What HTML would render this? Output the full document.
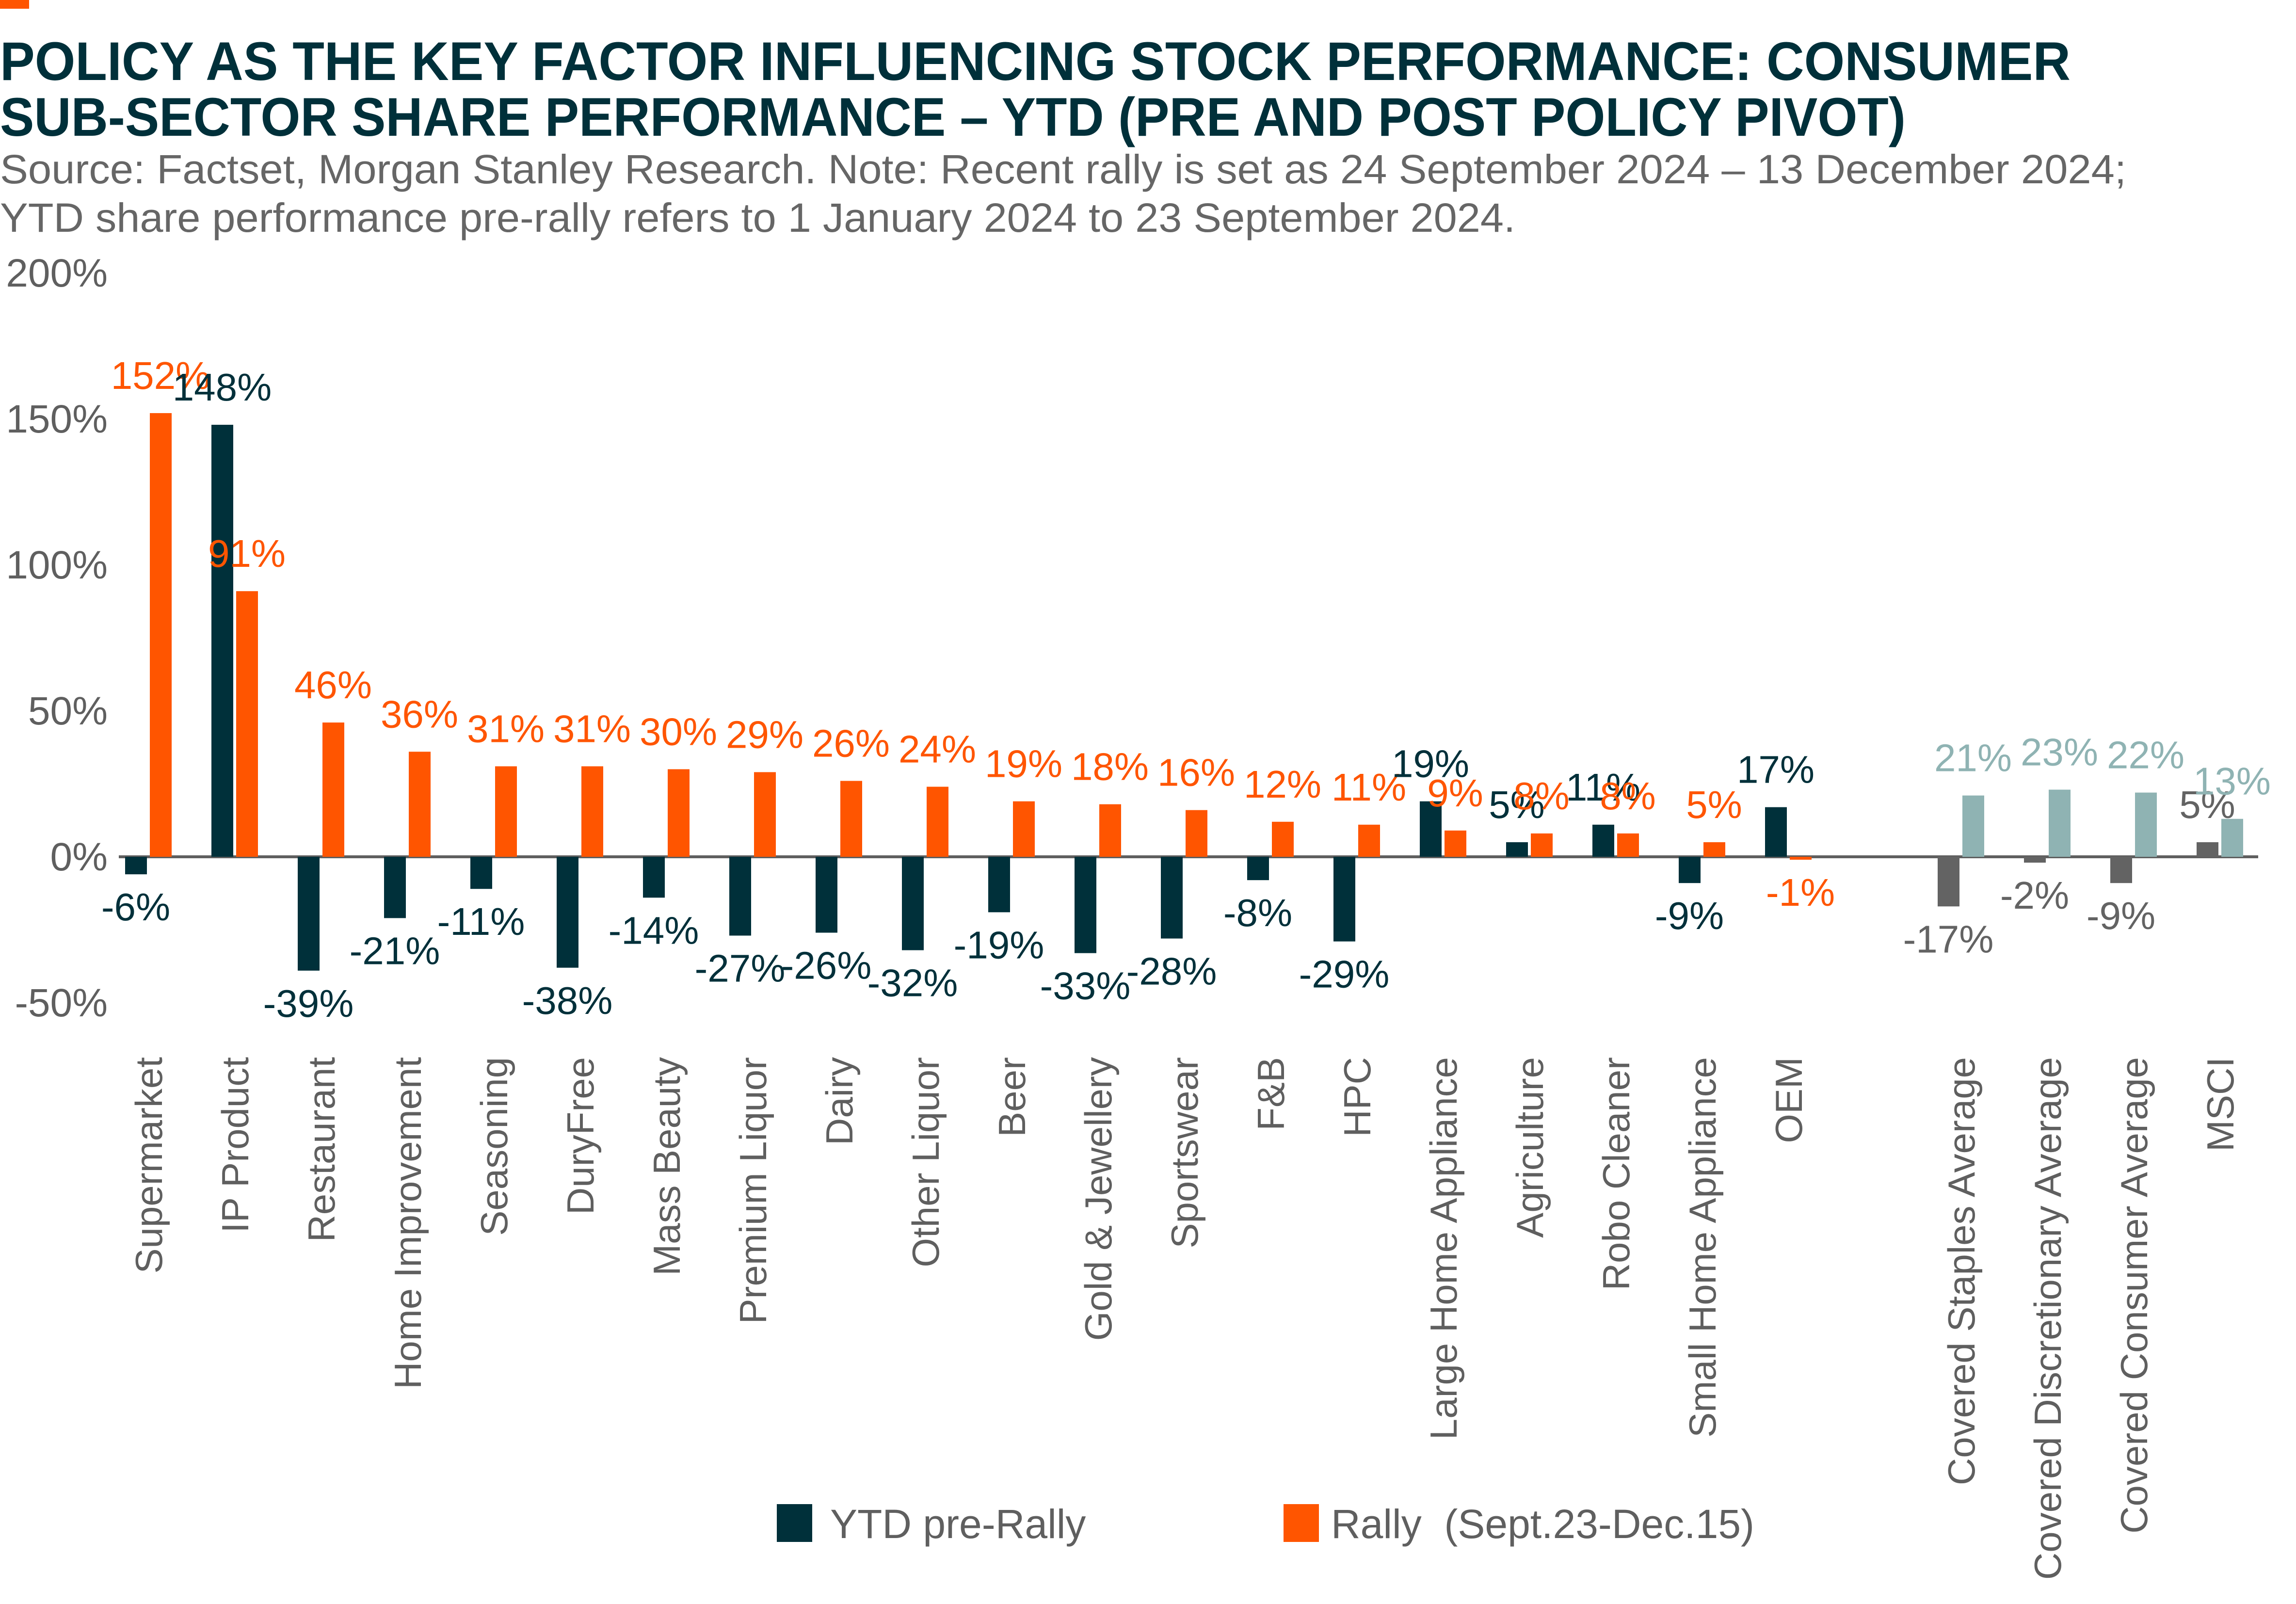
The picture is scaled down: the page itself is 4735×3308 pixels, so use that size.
<!DOCTYPE html>
<html><head><meta charset="utf-8"><style>
html,body{margin:0;padding:0;background:#fff}
svg{display:block;font-family:"Liberation Sans",sans-serif}
</style></head><body>
<svg id="chart" width="4735" height="3308" viewBox="0 0 4735 3308" xmlns="http://www.w3.org/2000/svg">
<rect x="0" y="0" width="60" height="18" fill="#ff5500"/>
<text x="0" y="165" font-size="112" font-weight="bold" fill="#00303a" textLength="4270" lengthAdjust="spacingAndGlyphs">POLICY AS THE KEY FACTOR INFLUENCING STOCK PERFORMANCE: CONSUMER</text>
<text x="0" y="280" font-size="112" font-weight="bold" fill="#00303a" textLength="3930" lengthAdjust="spacingAndGlyphs">SUB-SECTOR SHARE PERFORMANCE – YTD (PRE AND POST POLICY PIVOT)</text>
<text x="0" y="378" font-size="84" fill="#666" textLength="4385" lengthAdjust="spacingAndGlyphs">Source: Factset, Morgan Stanley Research. Note: Recent rally is set as 24 September 2024 – 13 December 2024;</text>
<text x="0" y="478" font-size="84" fill="#666" textLength="3125" lengthAdjust="spacingAndGlyphs">YTD share performance pre-rally refers to 1 January 2024 to 23 September 2024.</text>
<g id="yaxis"></g><g id="bars"></g><g id="labels"></g><g id="cats"></g>
<g>
<rect x="1602" y="3102" width="73" height="78" fill="#00303a"/>
<text x="1712" y="3172" font-size="84" fill="#5f5f5f">YTD pre-Rally</text>
<rect x="2647" y="3102" width="73" height="78" fill="#ff5500"/>
<text x="2745" y="3172" font-size="84" fill="#5f5f5f" xml:space="preserve">Rally  (Sept.23-Dec.15)</text>
</g>
</svg>
<script>
const categories = ["Supermarket","IP Product","Restaurant","Home Improvement","Seasoning","DuryFree","Mass Beauty","Premium Liquor","Dairy","Other Liquor","Beer","Gold & Jewellery","Sportswear","F&B","HPC","Large Home Appliance","Agriculture","Robo Cleaner","Small Home Appliance","OEM"];
const ytdValues = [-6,148,-39,-21,-11,-38,-14,-27,-26,-32,-19,-33,-28,-8,-29,19,5,11,-9,17];
const rallyValues = [152,91,46,36,31,31,30,29,26,24,19,18,16,12,11,9,8,8,5,-1];
const avgCategories = ["Covered Staples Average","Covered Discretionary Average","Covered Consumer Average","MSCI"];
const avgYtdValues = [-17,-2,-9,5];
const avgRallyValues = [21,23,22,13];
const yTicks = [-50,0,50,100,150,200];

const NS="http://www.w3.org/2000/svg";
const zeroY=1767, pxPer=6.02;
const y=v=>zeroY-v*pxPer;
const slotX=i=>306+i*178;
function mk(tag,attrs,parent){const e=document.createElementNS(NS,tag);for(const k in attrs)e.setAttribute(k,attrs[k]);parent.appendChild(e);return e;}
const gY=document.getElementById('yaxis'),gB=document.getElementById('bars'),gL=document.getElementById('labels'),gC=document.getElementById('cats');
yTicks.forEach(t=>{
  const tx=mk('text',{x:222,y:y(t)+28,'font-size':82,fill:'#5f5f5f','text-anchor':'end'},gY);
  
  
  tx.textContent=t+'%';
});
const ax=mk('line',{x1:245,x2:4657,y1:zeroY,y2:zeroY,stroke:'#5f5f5f','stroke-width':6},gY);



function drawPair(i,cat,v1,v2,c1,c2,lc1,lc2,slot){
  const cx=slotX(slot);
  [[v1,cx-48,c1,lc1,'bar-ytd','value-label-ytd'],[v2,cx+3,c2,lc2,'bar-rally','value-label-rally']].forEach(([v,x,c,lc,nm,ln])=>{
    const top=Math.min(y(v),zeroY),h=Math.abs(y(v)-zeroY);
    const r=mk('rect',{x:x,y:top,width:45,height:h,fill:c},gB);
    
    
    const ly=v>=0?y(v)-50:y(v)+95;
    const t=mk('text',{x:x+22,y:ly,'font-size':80,fill:lc,'text-anchor':'middle'},gL);
    
    
    t.textContent=v+'%';
  });
  const ct=mk('text',{x:0,y:0,'font-size':78,fill:'#5f5f5f','text-anchor':'end',transform:`translate(${cx+28},2180) rotate(-90)`},gC);
  
  
  ct.textContent=cat;
}
categories.forEach((c,i)=>drawPair(i,c,ytdValues[i],rallyValues[i],'#00303a','#ff5500','#00303a','#ff5500',i));
avgCategories.forEach((c,i)=>drawPair(i,c,avgYtdValues[i],avgRallyValues[i],'#636363','#8fb3b3','#636363','#8fb3b3',21+i));
</script>
</body></html>
